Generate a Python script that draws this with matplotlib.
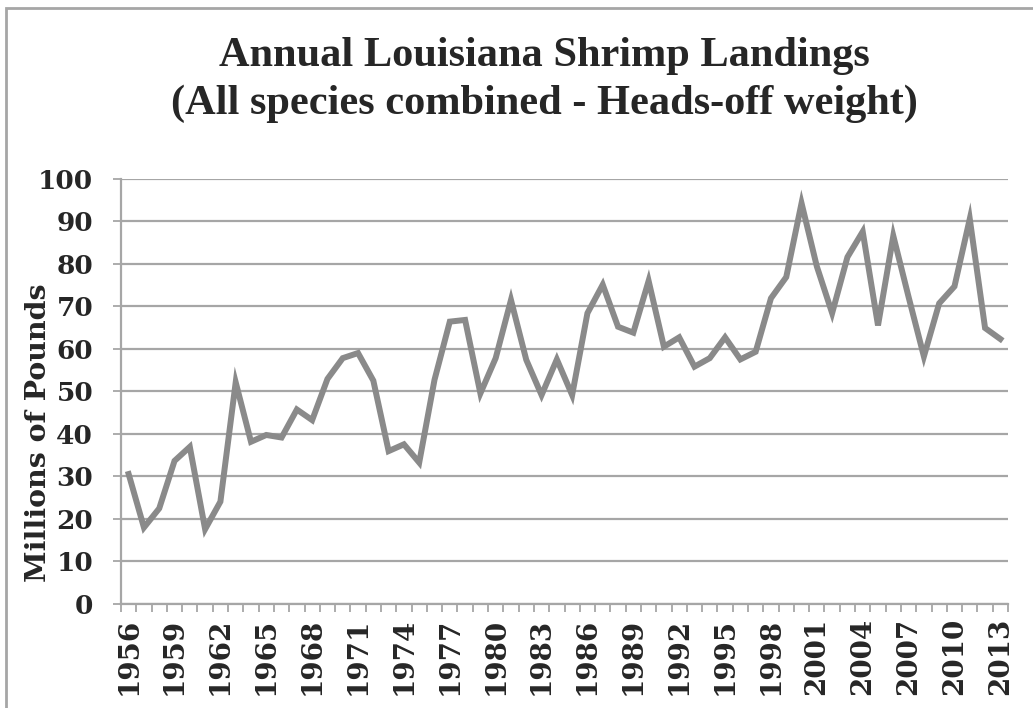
import matplotlib
matplotlib.use('Agg')
import matplotlib.pyplot as plt
from matplotlib.patches import Rectangle

years = list(range(1956, 2014))
landings = [30.5, 17.9, 22.4, 33.6, 36.9, 17.5, 24.0, 52.1, 38.1, 39.7,
            39.1, 45.7, 43.2, 52.9, 57.8, 59.0, 52.5, 35.9, 37.5, 33.2,
            52.7, 66.4, 66.8, 49.5, 57.8, 71.5, 57.4, 49.1, 57.5, 49.1,
            68.4, 75.1, 65.2, 63.8, 76.0, 60.5, 62.7, 55.8, 57.8, 62.7,
            57.5, 59.3, 71.9, 76.9, 94.3, 79.4, 68.4, 81.6, 87.6, 65.5,
            86.6, 72.2, 58.2, 70.7, 74.7, 90.6, 64.9, 62.3]
y_ticks = [0, 10, 20, 30, 40, 50, 60, 70, 80, 90, 100]
title = 'Annual Louisiana Shrimp Landings\n(All species combined - Heads-off weight)'
y_label = 'Millions of Pounds'

grey = '#a6a6a6'
line_grey = '#8a8a8a'
text_col = '#262626'

fig = plt.figure(figsize=(10.33, 7.08), dpi=100)
fig.patch.set_facecolor('white')

# outer chart border (cropped on the right and bottom in the original)
fig.patches.append(Rectangle((6 / 1033, -0.1), 1.2, 1.1 - 8 / 708, transform=fig.transFigure,
                             fill=False, edgecolor=grey, linewidth=2))

ax = fig.add_axes([121 / 1033, 1 - 603.5 / 708, (1008 - 121) / 1033, (603.5 - 179) / 708])

x = list(range(len(years)))
ax.plot(x, landings, color=line_grey, linewidth=4.3, solid_joinstyle='miter')

ax.set_xlim(-0.5, len(years) - 0.5)
ax.set_ylim(0, 100)

ax.set_yticks(y_ticks)
ax.set_yticklabels([str(v) for v in y_ticks], fontfamily='DejaVu Serif', fontweight='bold',
                   fontsize=19, color=text_col)
ax.yaxis.grid(True, color=grey, linewidth=1.6)
ax.set_axisbelow(True)

ax.set_xticks([i for i in x if i % 3 == 0])
ax.set_xticklabels([str(years[i]) for i in x if i % 3 == 0], rotation=90, fontfamily='DejaVu Serif',
                   fontweight='bold', fontsize=20, color=text_col)
ax.set_xticks([i - 0.5 for i in range(len(years) + 1)], minor=True)
ax.tick_params(axis='x', which='major', length=0, pad=10)
ax.tick_params(axis='x', which='minor', length=6, width=1.3, color=grey, direction='out')
ax.tick_params(axis='y', length=6, width=1.3, color=grey, direction='out', pad=14)

for s in ['top', 'right']:
    ax.spines[s].set_visible(False)
for s in ['left', 'bottom']:
    ax.spines[s].set_color(grey)
    ax.spines[s].set_linewidth(1.6)

fig.text(39 / 1033, 1 - 433 / 708, y_label, rotation=90, ha='center', va='center',
         fontfamily='DejaVu Serif', fontweight='bold', fontsize=20.5, color=text_col)

fig.text(0.527, 1 - 80 / 708, title, ha='center', va='center', fontfamily='Liberation Serif', fontweight='bold',
         fontsize=30.5, color=text_col, linespacing=1.32)

fig.savefig('out.png', dpi=100, facecolor='white')
